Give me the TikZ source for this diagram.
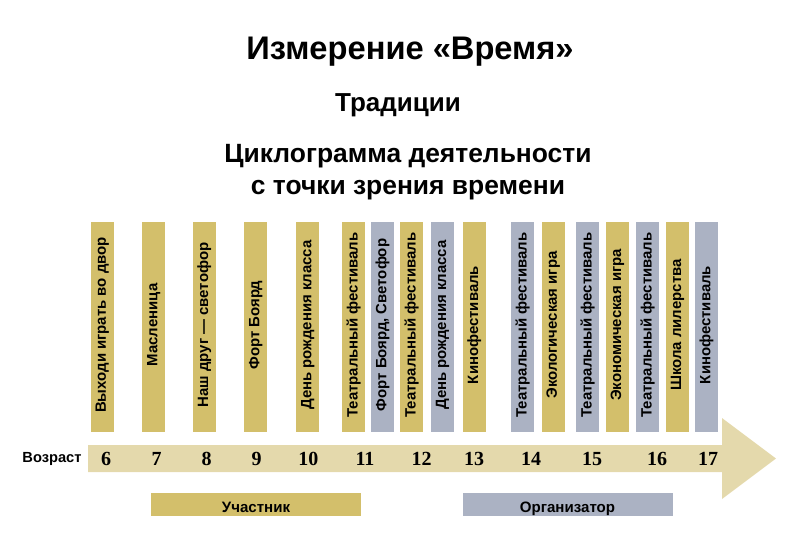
\documentclass[tikz,border=0pt]{standalone}
\usepackage{fontspec}
\setmainfont{Liberation Sans}
\newfontfamily\agefont{Liberation Serif}
\usepackage{xcolor}
\usepackage{tikz}
\usetikzlibrary{positioning}
\definecolor{barkhaki}{HTML}{D3BF6B}
\definecolor{bargrey}{HTML}{ABB2C3}
\definecolor{arrowkhaki}{HTML}{E4D9AC}

\tikzset{
  barlabel/.style={rotate=90, inner sep=0pt, font=\fontsize{11.2}{13}\selectfont\bfseries},
  agelabel/.style={inner sep=0pt, font=\agefont\fontsize{15}{17}\selectfont\bfseries},
  keybox/.style={minimum width=157.5pt, minimum height=17.25pt, inner sep=0pt,
    text height=11.4pt, text depth=0pt, font=\fontsize{11.3}{13}\selectfont\bfseries}
}

\begin{document}
\begin{tikzpicture}[x=0.75pt,y=-0.75pt]
\useasboundingbox (0,0) rectangle (800,544);
% headings
\node[font=\fontsize{24.5}{28}\selectfont\bfseries] (title) at (410,52) {Измерение «Время»};
\node[font=\fontsize{19.5}{22}\selectfont\bfseries] (topic) at (398,105) {Традиции};
\node[font=\fontsize{19.8}{24}\selectfont\bfseries, align=center] (subtitle) at (408,172)
  {Циклограмма деятельности\\с точки зрения времени};
% time arrow
\fill[arrowkhaki] (88,445) -- (722,445) -- (722,418) -- (776,458.5) -- (722,499)
  -- (722,472) -- (88,472) -- cycle;
% activity bars
\foreach \n/\bx/\col/\txt in {
  1/90.7/barkhaki/{Выходи играть во двор},
  2/142.3/barkhaki/{Масленица},
  3/192.7/barkhaki/{Наш друг — светофор},
  4/244.3/barkhaki/{Форт Боярд},
  5/296.3/barkhaki/{День рождения класса},
  6/342/barkhaki/{Театральный фестиваль},
  7/371/bargrey/{Форт Боярд, Светофор},
  8/400/barkhaki/{Театральный фестиваль},
  9/431/bargrey/{День рождения класса},
  10/462.7/barkhaki/{Кинофестиваль},
  11/511/bargrey/{Театральный фестиваль},
  12/541.7/barkhaki/{Экологическая игра},
  13/576/bargrey/{Театральный фестиваль},
  14/606/barkhaki/{Экономическая игра},
  15/636/bargrey/{Театральный фестиваль},
  16/666/barkhaki/{Школа лилерства},
  17/695/bargrey/{Кинофестиваль}} {
  \fill[\col] (\bx,222) rectangle (\bx+23,432);
  \node[barlabel] (act\n) at (\bx+11.5,325) {\txt};
}
% ages
\node[font=\fontsize{11}{13}\selectfont\bfseries, inner sep=0pt] (agename) at (52,459) {Возраст};
\foreach \a/\ax in {6/106,7/156.7,8/206.7,9/256.7,10/308.3,11/365,12/421.7,13/474,
  14/531,15/592,16/657,17/708}
  \node[agelabel] (age\a) at (\ax,459) {\a};
% roles
\node[keybox, fill=barkhaki] (member) at (256,504.5) {Участник};
\node[keybox, fill=bargrey] (organizer) at (567.5,504.5) {Организатор};
\end{tikzpicture}
\end{document}
